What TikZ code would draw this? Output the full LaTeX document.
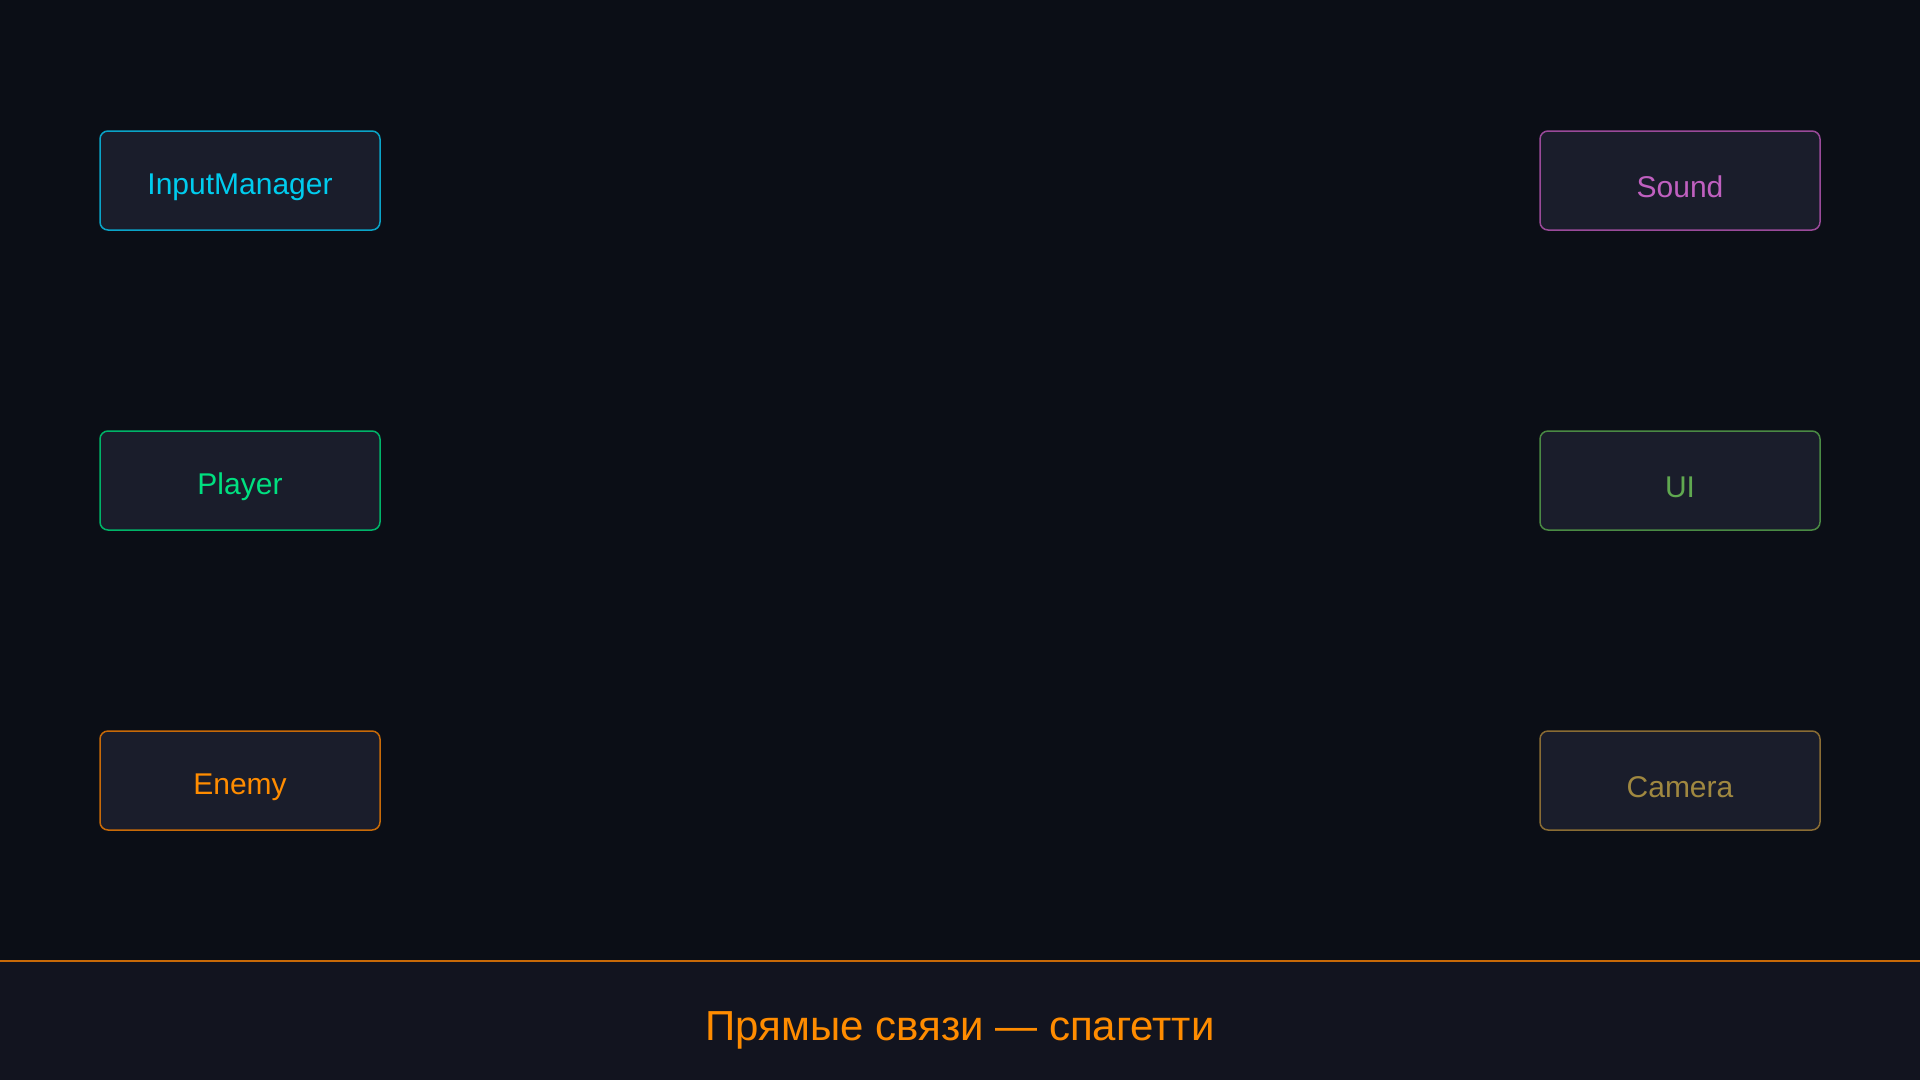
\documentclass[tikz,border=0pt]{standalone}
\usepackage{fontspec}
\setmainfont{Liberation Sans}
\usetikzlibrary{positioning}
\definecolor{bgdark}{HTML}{0B0E16}
\definecolor{footerbg}{HTML}{12141F}
\definecolor{boxfill}{HTML}{1A1D2B}
\definecolor{inputcol}{HTML}{00CCEE}
\definecolor{inputline}{HTML}{0AA4C8}
\definecolor{playercol}{HTML}{00E080}
\definecolor{playerline}{HTML}{00B468}
\definecolor{enemycol}{HTML}{FF8C00}
\definecolor{enemyline}{HTML}{C86A08}
\definecolor{soundcol}{HTML}{C060C0}
\definecolor{soundline}{HTML}{9A4A9A}
\definecolor{uicol}{HTML}{60A850}
\definecolor{uiline}{HTML}{4A8A44}
\definecolor{cameracol}{HTML}{A08840}
\definecolor{cameraline}{HTML}{8A6C34}
\tikzstyle{module} = [rectangle, rounded corners=8pt, line width=1.5pt, minimum width=280pt, minimum height=99pt, outer sep=0pt, fill=boxfill, text depth=0pt, text height=27pt, font=\fontsize{30}{36}\selectfont]
\tikzstyle{rightmodule} = [module, text height=33pt]
\tikzstyle{footerline} = [line width=2pt, draw=enemyline]

\begin{document}
\begin{tikzpicture}[x=1pt, y=-1pt, node distance = 201pt]
		\fill[bgdark] (0,0) rectangle (1920,1080);
		\useasboundingbox (0,0) rectangle (1920,1080);
		\fill[footerbg] (0,961) rectangle (1920,1080);
		\coordinate (FooterLeft) at (0,961);
		\coordinate (FooterRight) at (1920,961);
		\draw [footerline] (FooterLeft) -- (FooterRight);
		
		\node (InputManager) [module, draw=inputline, text=inputcol] at (240,180.5) {InputManager};
		\node (Player) [module, draw=playerline, text=playercol, below = of InputManager] {Player};
		\node (Enemy) [module, draw=enemyline, text=enemycol, below = of Player] {Enemy};
		\node (Sound) [rightmodule, draw=soundline, text=soundcol, right = 1160pt of InputManager] {Sound};
		\node (UI) [rightmodule, draw=uiline, text=uicol, right = 1160pt of Player] {UI};
		\node (Camera) [rightmodule, draw=cameraline, text=cameracol, right = 1160pt of Enemy] {Camera};
		
		\node (Caption) [anchor=base, text=enemycol, font=\fontsize{42}{50}\selectfont] at (960,1040) {Прямые связи — спагетти};
		\end{tikzpicture}
\end{document}
